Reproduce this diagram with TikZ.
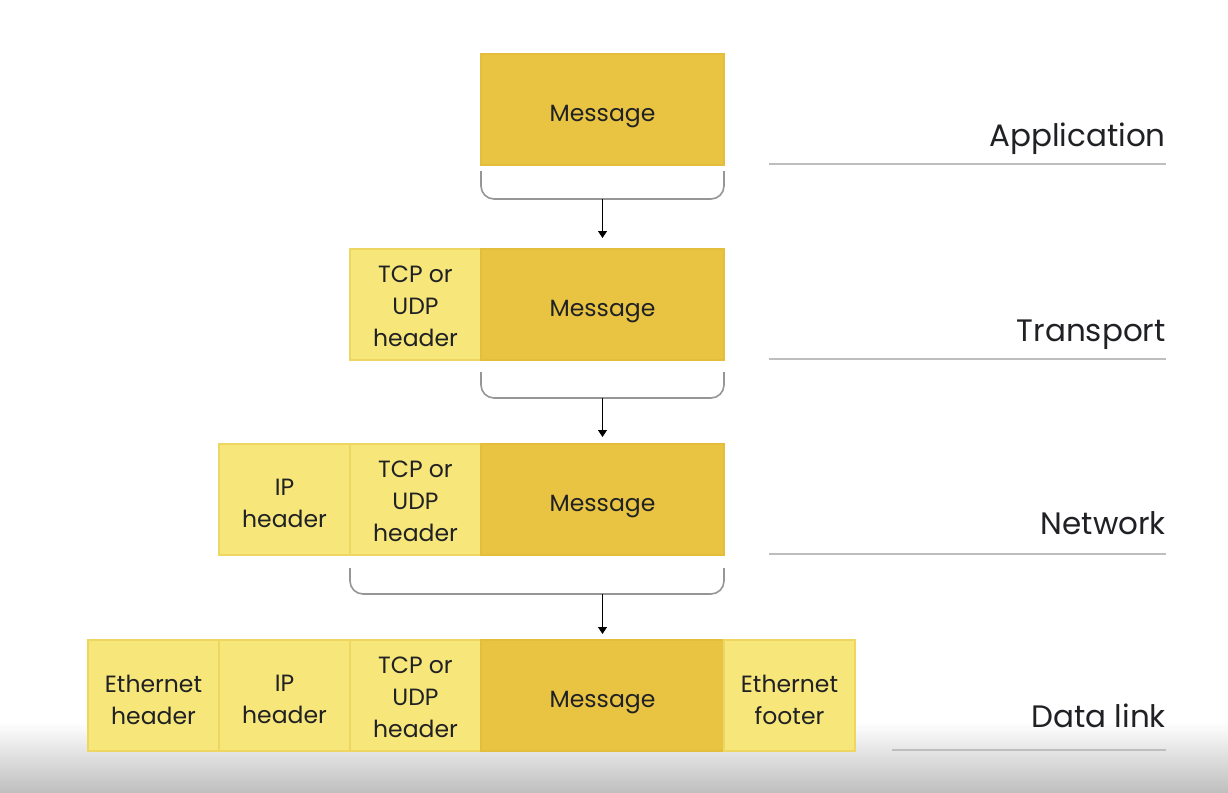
\documentclass[tikz,border=0pt]{standalone}
\usepackage{fontspec}
\setmainfont{Poppins}
\usetikzlibrary{arrows.meta,calc}
\definecolor{msgfill}{RGB}{233,196,66}
\definecolor{msgline}{RGB}{228,190,58}
\definecolor{hdrfill}{RGB}{247,230,122}
\definecolor{hdrline}{RGB}{238,214,98}
\definecolor{txt}{RGB}{32,33,36}
\definecolor{rule}{RGB}{190,190,190}
\definecolor{brk}{RGB}{150,150,150}
\tikzset{
  x=1pt, y=-1pt,
  cell/.style={anchor=north west, inner sep=0pt, outer sep=0pt, minimum height=111pt},
  msgbox/.style={cell, fill=msgfill, draw=msgline, line width=1.2pt, minimum width=243pt},
  hdrbox/.style={cell, fill=hdrfill, draw=hdrline, line width=1.2pt, minimum width=131pt},
  celltext/.style={inner sep=0pt, align=center, text=txt, font=\fontsize{23.5}{32}\selectfont},
  one/.style={celltext, yshift=-7pt},
  two/.style={celltext, yshift=-4pt},
  three/.style={celltext, yshift=-2pt},
  layerlabel/.style={anchor=base east, inner sep=0pt, text=txt, font=\fontsize{31}{36}\selectfont},
  layerrule/.style={draw=rule, line width=2pt},
  bracketline/.style={draw=brk, line width=1.6pt, rounded corners=13pt},
  downarrow/.style={draw=black, line width=0.9pt, -{Triangle[width=9pt,length=7pt]}}
}
\begin{document}
\begin{tikzpicture}
\useasboundingbox (0,0) rectangle (1228,792);
\fill[white] (0,0) rectangle (1228,792);
\shade[top color=white, bottom color=black!25] (0,722) rectangle (1228,792);

% Application
\node[msgbox, label={[one]center:Message}] (appmsg) at (481,54) {};
% Transport
\node[hdrbox, label={[three]center:TCP or\\UDP\\header}] (trtcp) at (350,249) {};
\node[msgbox, label={[one]center:Message}] (trmsg) at (481,249) {};
% Network
\node[hdrbox, label={[two]center:IP\\header}] (nwip) at (219,444) {};
\node[hdrbox, label={[three]center:TCP or\\UDP\\header}] (nwtcp) at (350,444) {};
\node[msgbox, label={[one]center:Message}] (nwmsg) at (481,444) {};
% Data link
\node[hdrbox, label={[two]center:Ethernet\\header}] (dleth) at (88,640) {};
\node[hdrbox, label={[two]center:IP\\header}] (dlip) at (219,640) {};
\node[hdrbox, label={[three]center:TCP or\\UDP\\header}] (dltcp) at (350,640) {};
\node[msgbox, label={[one]center:Message}] (dlmsg) at (481,640) {};
\node[hdrbox, label={[two]center:Ethernet\\footer}] (dlfoot) at (724,640) {};

% brackets
\draw[bracketline] ([yshift=-6pt]appmsg.south west) -- ++(0,28) -| ([yshift=-6pt]appmsg.south east);
\coordinate (b1) at ($(appmsg.south)+(0,34)$);
\draw[bracketline] ([yshift=-12pt]trmsg.south west) -- ++(0,26) -| ([yshift=-12pt]trmsg.south east);
\coordinate (b2) at ($(trmsg.south)+(0,38)$);
\draw[bracketline] ([yshift=-13pt]nwtcp.south west) -- ++(0,26) -| ([yshift=-13pt]nwmsg.south east);
\coordinate (b3) at ($(nwmsg.south)+(0,39)$);

% arrows
\draw[downarrow] (b1) -- ([yshift=11pt]trmsg.north);
\draw[downarrow] (b2) -- ([yshift=7pt]nwmsg.north);
\draw[downarrow] (b3) -- ([yshift=6pt]dlmsg.north);

% layer labels and rules
\node[layerlabel] (lapp) at (1166,146) {Application};
\node[layerlabel] (ltr) at (1166,341) {Transport};
\node[layerlabel] (lnw) at (1166,534) {Network};
\node[layerlabel] (ldl) at (1166,727) {Data link};
\coordinate (r1a) at (769,164); \coordinate (r1b) at (1166,164);
\coordinate (r2a) at (769,359); \coordinate (r2b) at (1166,359);
\coordinate (r3a) at (769,554); \coordinate (r3b) at (1166,554);
\coordinate (r4a) at (892,750); \coordinate (r4b) at (1166,750);
\draw[layerrule] (r1a) -- (r1b);
\draw[layerrule] (r2a) -- (r2b);
\draw[layerrule] (r3a) -- (r3b);
\draw[layerrule] (r4a) -- (r4b);
\end{tikzpicture}
\end{document}
